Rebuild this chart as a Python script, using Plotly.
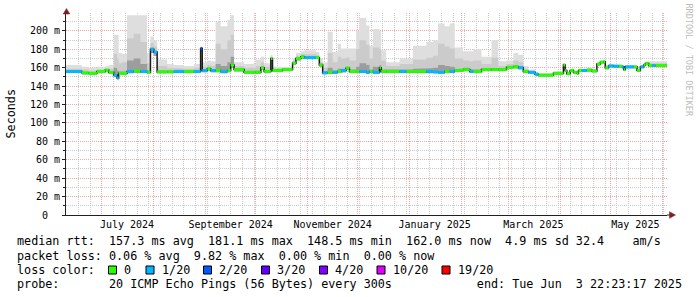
import plotly.graph_objects as go

START = "2024-06-09 12:00:00"
END = "2025-06-03 22:23:17"

# ---------------- data (step segments: start date of each consolidated step) -------------
seg_start = [
    "2024-06-09 12:00", "2024-06-19", "2024-06-23", "2024-06-28", "2024-07-03", "2024-07-05", "2024-07-08", "2024-07-10", "2024-07-11", "2024-07-13",
    "2024-07-16", "2024-07-20", "2024-07-24", "2024-07-28", "2024-07-30", "2024-08-01", "2024-08-03", "2024-08-09", "2024-08-13", "2024-08-19",
    "2024-08-25", "2024-08-29", "2024-08-30", "2024-09-02", "2024-09-04", "2024-09-07", "2024-09-10", "2024-09-14", "2024-09-16", "2024-09-18",
    "2024-09-24", "2024-10-01", "2024-10-04", "2024-10-06", "2024-10-10", "2024-10-11", "2024-10-17", "2024-10-23", "2024-10-25", "2024-10-28",
    "2024-10-30", "2024-11-06", "2024-11-08", "2024-11-10", "2024-11-13", "2024-11-16", "2024-11-19", "2024-11-21", "2024-11-24", "2024-11-26",
    "2024-11-30", "2024-12-02", "2024-12-06", "2024-12-08", "2024-12-10", "2024-12-14", "2024-12-15", "2024-12-18", "2024-12-26", "2024-12-30",
    "2025-01-03", "2025-01-11", "2025-01-15", "2025-01-18", "2025-01-22", "2025-01-25", "2025-01-28", "2025-02-02", "2025-02-06", "2025-02-08",
    "2025-02-13", "2025-02-19", "2025-02-23", "2025-02-28", "2025-03-04", "2025-03-07", "2025-03-10", "2025-03-13", "2025-03-17", "2025-03-19",
    "2025-03-28", "2025-04-03", "2025-04-04", "2025-04-05", "2025-04-07", "2025-04-09", "2025-04-11", "2025-04-12", "2025-04-14", "2025-04-17",
    "2025-04-20", "2025-04-23", "2025-04-25", "2025-04-27", "2025-04-28", "2025-04-30", "2025-05-03", "2025-05-06", "2025-05-08", "2025-05-09",
    "2025-05-10", "2025-05-15", "2025-05-17", "2025-05-19", "2025-05-21", "2025-05-22", "2025-05-24", "2025-05-26", "2025-05-28",
]

median_ms = [
    156, 154.5, 154, 156, 157.5, 155, 152, 149, 154, 154,
    156, 156.5, 156, 155, 180, 177, 155.5, 155.5, 156, 156,
    156, 181, 157, 159, 157, 157, 156, 157, 163, 158,
    155, 155, 160, 156, 170, 157, 158, 165, 170, 172,
    171, 171, 163, 154.5, 155, 155, 156, 157, 159.5, 156,
    156, 156, 155, 156, 155, 160, 156, 156, 156, 156,
    156, 156, 155.5, 155, 156, 156, 157, 158, 156, 156,
    158, 158, 158, 160.5, 161, 160, 156, 155, 153, 152,
    154, 163, 157, 153.5, 157, 155, 154, 157, 157, 157.5,
    156.5, 164, 166, 166.5, 160, 162, 161.5, 161.5, 161, 158,
    161, 161, 157, 161, 163, 164.5, 162.5, 162.5, 162.5,
]

loss_pings = [
    1, 0, 0, 0, 0, 0, 1, 1, 0, 0,
    1, 0, 1, 0, 1, 1, 0, 0, 1, 0,
    1, 2, 1, 0, 1, 0, 1, 0, 0, 0,
    0, 0, 0, 0, 0, 0, 0, 0, 0, 0,
    1, 0, 0, 1, 0, 1, 0, 1, 0, 0,
    0, 1, 1, 0, 1, 0, 0, 0, 1, 0,
    0, 1, 1, 1, 0, 1, 0, 0, 1, 0,
    0, 0, 0, 0, 0, 1, 0, 1, 1, 0,
    0, 0, 0, 0, 0, 0, 0, 0, 1, 0,
    0, 0, 0, 0, 0, 1, 1, 0, 1, 0,
    1, 0, 0, 1, 0, 0, 0, 1, 0,
]

ping_max = [
    163, 161, 160, 161, 162, 163, 196, 196, 176, 175,
    217, 217, 217, 176, 194, 190, 169, 164, 163, 162,
    164, 183, 166, 168, 167, 210, 205, 212, 217, 166,
    164, 169, 172, 165, 174, 161, 161, 170, 176, 178,
    179, 177, 170, 166, 199, 177, 186, 181, 181, 181,
    200, 214, 206, 184, 202, 200, 179, 166, 170, 170,
    184, 188, 190, 208, 205, 208, 182, 178, 178, 180,
    172, 190, 167, 168, 176, 174, 162, 158, 155, 154,
    156, 165, 159, 156, 159, 157, 156, 159, 159, 160,
    159, 166, 168, 168.5, 163, 164, 164, 164, 163, 160,
    163, 163, 159, 163, 165, 167, 167, 167, 167,
]

ping_p75 = [
    159, 158, 157, 158, 159, 159, 175, 170, 165, 166,
    192, 197, 188, 165, 187, 183, 162, 160, 159.5, 159,
    160, 182, 161, 163, 162, 186, 180, 190, 196, 162,
    160, 162, 166, 161, 172, 159.5, 160, 167.5, 173, 175,
    175, 174, 166, 160, 176, 166, 172, 170, 171, 168,
    180, 190, 185, 170, 182, 180, 168, 162, 164, 164,
    169, 171, 173, 186, 183, 181, 170, 168, 167, 168,
    164, 171, 162, 164, 168, 166, 159, 157, 154.5, 153.5,
    155.5, 164.5, 158.5, 155, 158.5, 156.5, 155.5, 158.5, 158.5, 159,
    158, 165.5, 167.5, 168, 162, 163.5, 163, 163, 162.5, 159.5,
    162.5, 162.5, 158.5, 162.5, 164.5, 166, 165, 165, 165,
]

ping_p60 = [
    157, 155.5, 155, 157, 158.5, 156.5, 160, 157, 156, 156,
    168, 170, 164, 157, 182, 178.5, 157, 157, 157.5, 157.5,
    157.5, 181.5, 158.5, 160.5, 158.5, 164, 162, 166, 172, 159.5,
    156.5, 157, 161.5, 157.5, 171, 158.5, 159, 166.5, 171.5, 173.5,
    172.5, 172.5, 164.5, 156, 160, 157, 159, 159, 161.5, 158,
    161, 165, 163, 158, 161, 163, 158, 157.5, 158, 158,
    159, 159.5, 160, 163, 162, 161, 159, 160, 158, 158,
    159.5, 160, 159.5, 162, 163, 162, 157.5, 156, 154, 153,
    155, 164, 158, 154.5, 158, 156, 155, 158, 158, 158.5,
    157.5, 165, 167, 167.5, 161, 163, 162.5, 162.5, 162, 159,
    162, 162, 158, 162, 164, 165.5, 164, 164, 164,
]

ping_min = [
    154.5, 153, 152.5, 154.5, 156, 153.5, 150, 147.5, 152.5, 152.5,
    154, 155, 154.5, 153.5, 176, 173, 154, 154, 154.5, 154.5,
    154.5, 178, 155, 157, 155, 155, 154, 155, 160, 156,
    153.5, 153.5, 158, 154.5, 167, 155.5, 156.5, 163, 168, 170,
    169.5, 169.5, 161, 153, 153.5, 153.5, 154.5, 155, 157.5, 154.5,
    154.5, 154.5, 153.5, 154.5, 153.5, 158, 154.5, 154.5, 154.5, 154.5,
    154.5, 154.5, 154, 153.5, 154.5, 154.5, 155.5, 156.5, 154.5, 154.5,
    156.5, 156.5, 156.5, 159, 159.5, 158.5, 154.5, 153.5, 151.5, 150.5,
    152.5, 161.5, 155.5, 152, 155.5, 153.5, 152.5, 155.5, 155.5, 156,
    155, 162.5, 164.5, 165, 158.5, 160.5, 160, 160, 159.5, 156.5,
    159.5, 159.5, 155.5, 159.5, 161.5, 163, 161, 161, 161,
]

loss_classes = [0, 1, 2, 3, 4, 10, 19]
loss_labels = ["0", "1/20", "2/20", "3/20", "4/20", "10/20", "19/20"]
loss_colors = ["#26ff00", "#00b8ff", "#0059ff", "#5e00ff", "#7e00ff", "#dd00ff", "#ff0000"]

y_tick_vals = [0, 20, 40, 60, 80, 100, 120, 140, 160, 180, 200]
y_tick_text = ["0\u00a0\u00a0", "20 m", "40 m", "60 m", "80 m", "100 m", "120 m",
               "140 m", "160 m", "180 m", "200 m"]

month_grid = ["2024-07-01", "2024-08-01", "2024-09-01", "2024-10-01", "2024-11-01", "2024-12-01",
              "2025-01-01", "2025-02-01", "2025-03-01", "2025-04-01", "2025-05-01", "2025-06-01"]
month_label_pos = ["2024-07-16", "2024-09-16", "2024-11-16", "2025-01-16", "2025-03-16", "2025-05-16"]
month_label_txt = ["July 2024", "September 2024", "November 2024", "January 2025", "March 2025", "May 2025"]

stat_lines = [
    "median rtt:  157.3 ms avg  181.1 ms max  148.5 ms min  162.0 ms now  4.9 ms sd 32.4    am/s",
    "packet loss: 0.06 % avg  9.82 % max  0.00 % min  0.00 % now",
    "loss color:",
    "probe:       20 ICMP Echo Pings (56 Bytes) every 300s            end: Tue Jun  3 22:23:17 2025",
]

# ---------------- geometry helpers (pixel -> paper) ----------------
W, H = 697, 297
PL, PR, PT, PB = 66, 667, 13, 215


def pxx(x):
    return (x - PL) / (PR - PL)


def pxy(y):
    return (PB - y) / (PB - PT)


seg_end = seg_start[1:] + [END]


def steps(vals):
    xs, ys = [], []
    for s, e, v in zip(seg_start, seg_end, vals):
        xs += [s, e]
        ys += [v, v]
    return xs, ys


def loss_class_index(n):
    idx = 0
    for k, c in enumerate(loss_classes):
        if n >= c:
            idx = k
    return idx


fig = go.Figure()

# smoke layers
smoke_layers = [(ping_max, "#dedede"), (ping_p75, "#cbcbcb"), (ping_p60, "#9d9d9d")]
bx, by = steps(ping_min)
for vals, col in smoke_layers:
    fig.add_trace(go.Scatter(x=bx, y=by, mode="lines", line=dict(width=0), hoverinfo="skip"))
    tx, ty = steps(vals)
    fig.add_trace(go.Scatter(x=tx, y=ty, mode="lines", line=dict(width=0), fill="tonexty",
                             fillcolor=col, hoverinfo="skip"))

# black median
mx, my = steps(median_ms)
fig.add_trace(go.Scatter(x=mx, y=my, mode="lines", line=dict(color="#1a1a1a", width=1.5),
                         hoverinfo="skip"))

# loss-coloured median segments
for k, col in enumerate(loss_colors):
    xs, ys = [], []
    for s, e, v, l in zip(seg_start, seg_end, median_ms, loss_pings):
        if loss_class_index(l) == k:
            xs += [s, e, None]
            ys += [v, v, None]
    if xs:
        fig.add_trace(go.Scatter(x=xs, y=ys, mode="lines", line=dict(color=col, width=3),
                                 connectgaps=False, hoverinfo="skip"))

# dummy trace for label axis
fig.add_trace(go.Scatter(x=[START, END], y=[0, 0], xaxis="x2", mode="lines",
                         line=dict(width=0), opacity=0, hoverinfo="skip"))

MONO = "DejaVu Sans Mono"
MAJ = "#eeaaaa"
MIN = "#c9c9c9"

fig.update_layout(
    width=W, height=H,
    margin=dict(l=PL, r=W - PR, t=PT, b=H - PB),
    paper_bgcolor="white", plot_bgcolor="white",
    showlegend=False,
    font=dict(family=MONO, size=10, color="black"),
    xaxis=dict(
        type="date", range=[START, END], tickmode="array", tickvals=month_grid,
        showticklabels=False, ticks="", showgrid=True, gridcolor=MAJ, gridwidth=1,
        griddash="1px,1px",
        minor=dict(dtick=7 * 86400000, tick0="2024-06-03", showgrid=True, gridcolor=MIN,
                   griddash="1px,1px", gridwidth=1, ticks=""),
        showline=True, linecolor="#1f1f1f", linewidth=1, zeroline=False,
    ),
    xaxis2=dict(
        type="date", range=[START, END], overlaying="x", anchor="y", side="bottom",
        tickmode="array", tickvals=month_label_pos, ticktext=month_label_txt,
        showgrid=False, showline=False, ticks="", zeroline=False, ticklabelstandoff=2,
        tickfont=dict(family=MONO, size=10, color="black"),
    ),
    yaxis=dict(
        range=[0, 219.5], tickmode="array", tickvals=y_tick_vals, ticktext=y_tick_text,
        ticks="outside", ticklen=3, tickcolor="#1f1f1f", tickwidth=1,
        showgrid=True, gridcolor=MAJ, gridwidth=1, griddash="1px,1px",
        minor=dict(dtick=10, tick0=0, showgrid=True, gridcolor=MIN, griddash="1px,1px",
                   gridwidth=1, ticks="outside", ticklen=2, tickcolor="#1f1f1f"),
        showline=True, linecolor="#1f1f1f", linewidth=1, zeroline=False,
        tickfont=dict(family=MONO, size=10, color="black"),
    ),
)

annotations = []
shapes = []

# y-axis title
annotations.append(dict(text="Seconds", x=pxx(10.5), y=pxy(114), xref="paper", yref="paper",
                        textangle=-90, showarrow=False, xanchor="center", yanchor="middle",
                        font=dict(family=MONO, size=11.75, color="black")))
# watermark
annotations.append(dict(text="RRDTOOL / TOBI OETIKER", x=pxx(688.5), y=pxy(60), xref="paper",
                        yref="paper", textangle=90, showarrow=False, xanchor="center",
                        yanchor="middle", font=dict(family=MONO, size=8.5, color="#bdbdbd")))

# statistics lines
line_y = [241, 255.5, 269.5, 283.5]
for txt, ly in zip(stat_lines, line_y):
    annotations.append(dict(text=txt.replace(" ", "\u00a0"), x=pxx(16), y=pxy(ly), xref="paper",
                            yref="paper", showarrow=False, xanchor="left", yanchor="middle",
                            borderpad=0, font=dict(family=MONO, size=11.75, color="black")))

# loss colour legend
box_x = [108.5, 146, 203.5, 261.5, 319.5, 377, 442]
for bxp, lab, col in zip(box_x, loss_labels, loss_colors):
    shapes.append(dict(type="rect", xref="paper", yref="paper", x0=pxx(bxp), x1=pxx(bxp + 8),
                       y0=pxy(274), y1=pxy(266), fillcolor=col,
                       line=dict(color="black", width=1)))
    annotations.append(dict(text=lab, x=pxx(bxp + 14.5), y=pxy(269.5), xref="paper", yref="paper",
                            showarrow=False, xanchor="left", yanchor="middle", borderpad=0,
                            font=dict(family=MONO, size=11.75, color="black")))

# axis arrows
ARW = "#801f1f"
shapes.append(dict(type="path", xref="paper", yref="paper",
                   path=f"M {pxx(66.5)},{pxy(8.5)} L {pxx(63.2)},{pxy(14)} L {pxx(69.8)},{pxy(14)} Z",
                   fillcolor=ARW, line=dict(color=ARW, width=0.5)))
shapes.append(dict(type="line", xref="paper", yref="paper", x0=pxx(PR), x1=pxx(670), y0=0, y1=0,
                   line=dict(color="#1f1f1f", width=1)))
shapes.append(dict(type="path", xref="paper", yref="paper",
                   path=f"M {pxx(675.5)},{pxy(215)} L {pxx(669.5)},{pxy(211.7)} L {pxx(669.5)},{pxy(218.3)} Z",
                   fillcolor=ARW, line=dict(color=ARW, width=0.5)))

fig.update_layout(annotations=annotations, shapes=shapes)

fig.write_html("out.html")
